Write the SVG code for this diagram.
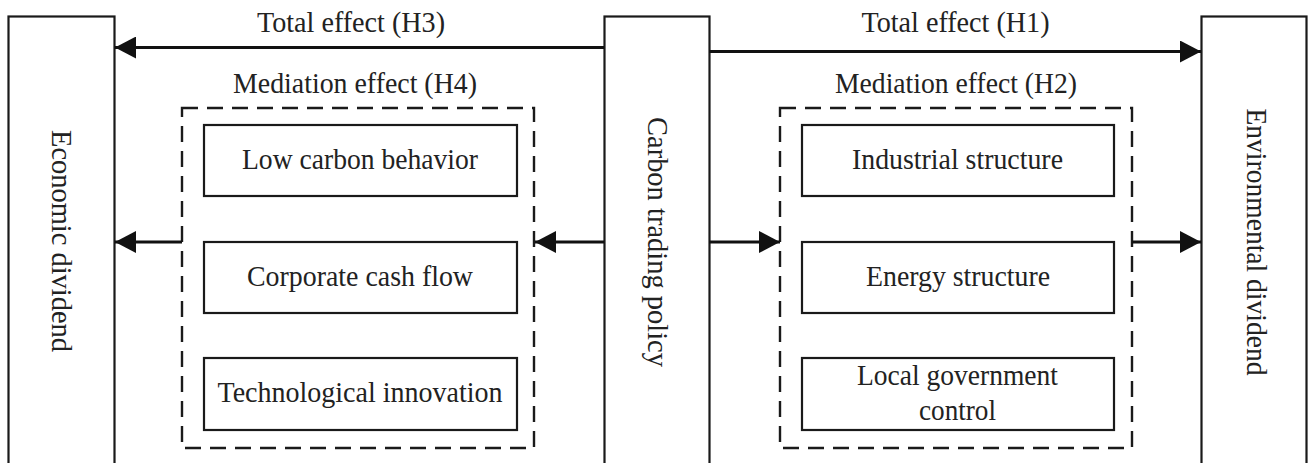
<svg xmlns="http://www.w3.org/2000/svg" width="1309" height="463" viewBox="0 0 1309 463">
<defs>
<marker id="ah" markerUnits="userSpaceOnUse" markerWidth="22" markerHeight="22" refX="21" refY="11" orient="auto">
<path d="M0,0 L21,11 L0,22 Z" fill="#111"/>
</marker>
<style>
.box{fill:#fff;stroke:#1a1a1a;stroke-width:2.2}
.dash{fill:none;stroke:#1a1a1a;stroke-width:2.4;stroke-dasharray:16 9}
.t{font-family:"Liberation Serif","Times New Roman",serif;font-size:30px;fill:#222;text-anchor:middle}
.arr{stroke:#111;stroke-width:3.2;fill:none;marker-end:url(#ah)}
</style>
</defs>
<rect width="1309" height="463" fill="#fff"/>
<g id="economic">
<rect class="box" x="8.5" y="16.5" width="106" height="460"/>
<text class="t" transform="translate(52,241) rotate(90)" textLength="222" lengthAdjust="spacingAndGlyphs">Economic dividend</text>
</g>
<g id="carbon">
<rect class="box" x="604.5" y="16.5" width="105" height="460"/>
<text class="t" transform="translate(648,242) rotate(90)" textLength="250" lengthAdjust="spacingAndGlyphs">Carbon trading policy</text>
</g>
<g id="environmental">
<rect class="box" x="1201.5" y="16.5" width="105" height="460"/>
<text class="t" transform="translate(1247,242) rotate(90)" textLength="267" lengthAdjust="spacingAndGlyphs">Environmental dividend</text>
</g>
<g id="mediation-h4">
<rect class="dash" x="182" y="108" width="352" height="340"/>
<text class="t" x="355" y="93" textLength="244" lengthAdjust="spacingAndGlyphs">Mediation effect (H4)</text>
</g>
<g id="mediation-h2">
<rect class="dash" x="780" y="108" width="352" height="340"/>
<text class="t" x="956" y="93" textLength="242" lengthAdjust="spacingAndGlyphs">Mediation effect (H2)</text>
</g>
<g id="low-carbon">
<rect class="box" x="204" y="125" width="313" height="71"/>
<text class="t" x="360" y="169" textLength="236" lengthAdjust="spacingAndGlyphs">Low carbon behavior</text>
</g>
<g id="cash-flow">
<rect class="box" x="204" y="242" width="313" height="71"/>
<text class="t" x="360" y="286" textLength="226" lengthAdjust="spacingAndGlyphs">Corporate cash flow</text>
</g>
<g id="tech">
<rect class="box" x="204" y="358" width="313" height="72"/>
<text class="t" x="360" y="402" textLength="285" lengthAdjust="spacingAndGlyphs">Technological innovation</text>
</g>
<g id="industrial">
<rect class="box" x="802" y="125" width="312" height="71"/>
<text class="t" x="957.5" y="169" textLength="211" lengthAdjust="spacingAndGlyphs">Industrial structure</text>
</g>
<g id="energy">
<rect class="box" x="802" y="242" width="312" height="71"/>
<text class="t" x="958" y="286" textLength="184" lengthAdjust="spacingAndGlyphs">Energy structure</text>
</g>
<g id="local-gov">
<rect class="box" x="802" y="358" width="312" height="72"/>
<text class="t" x="957.5" y="385" textLength="201" lengthAdjust="spacingAndGlyphs">Local government</text>
<text class="t" x="957.5" y="420" textLength="77" lengthAdjust="spacingAndGlyphs">control</text>
</g>
<g id="connectors">
<line class="arr" x1="604" y1="47.5" x2="115" y2="47.5"/>
<line class="arr" x1="709" y1="51.5" x2="1201" y2="51.5"/>
<line class="arr" x1="604" y1="242" x2="535" y2="242"/>
<line class="arr" x1="182" y1="242" x2="115" y2="242"/>
<line class="arr" x1="709" y1="242" x2="780" y2="242"/>
<line class="arr" x1="1132" y1="242" x2="1201" y2="242"/>
<text class="t" x="351" y="32" textLength="188" lengthAdjust="spacingAndGlyphs">Total effect (H3)</text>
<text class="t" x="955.5" y="32" textLength="188" lengthAdjust="spacingAndGlyphs">Total effect (H1)</text>
</g>
</svg>
